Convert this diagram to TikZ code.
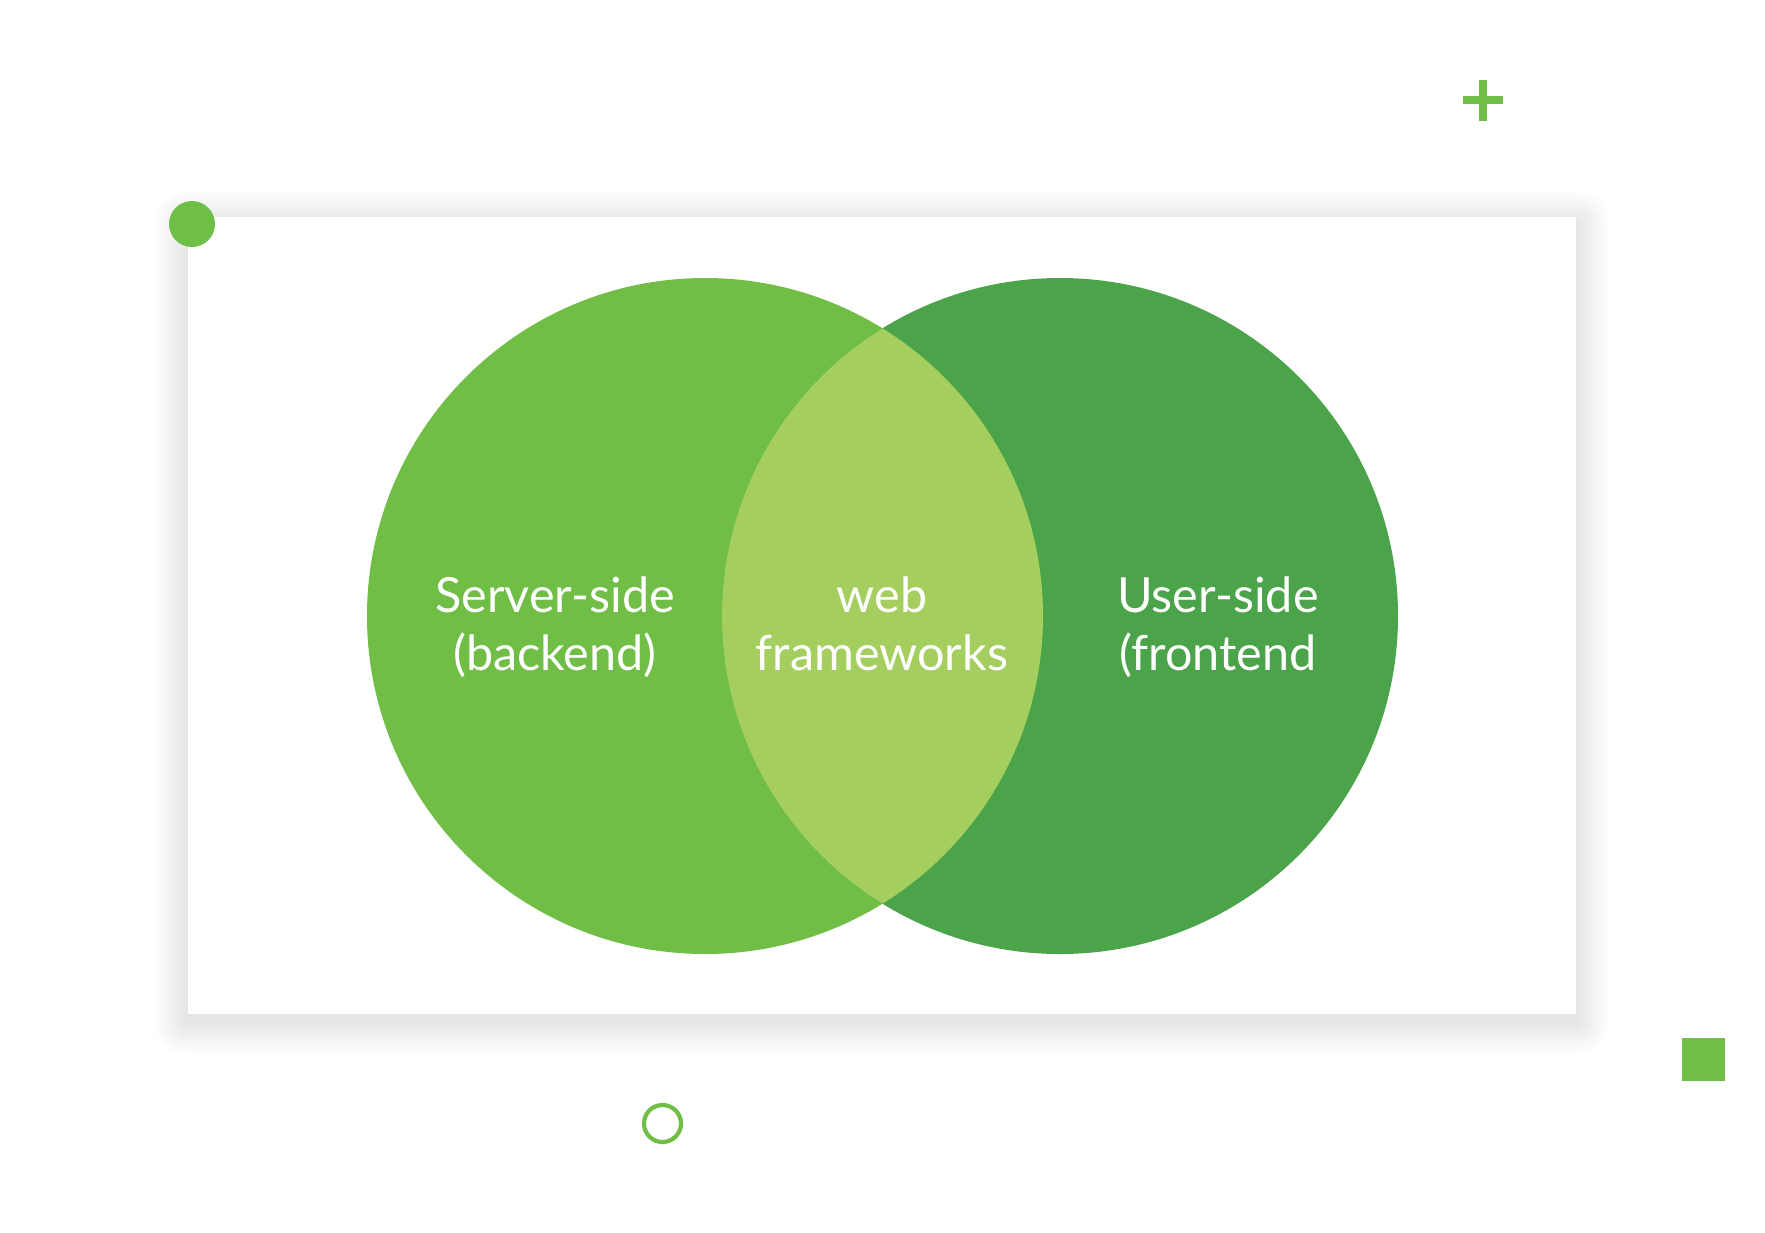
\documentclass[tikz,border=0pt]{standalone}
\usepackage{fontspec}
\setmainfont{Lato}

\definecolor{serverGreen}{HTML}{70BE46}
\definecolor{userGreen}{HTML}{4BA34A}
\definecolor{webGreen}{HTML}{A4CF5F}

\begin{document}
\begin{tikzpicture}[x=0.01cm, y=-0.01cm,
	venntext/.style={text=white, align=center, inner sep=0pt, font=\fontsize{13.8pt}{16.6pt}\selectfont},
	shadowstep/.style={fill=black, fill opacity=0.0035}]

	\useasboundingbox[fill=white] (0,0) rectangle (1765,1232);

	% card
	\foreach \r in {1,...,26}
		\fill[shadowstep, rounded corners=\r*0.35pt] ({188-1.3*\r},{224-1.3*\r}) rectangle ({1576+1.3*\r},{1021+1.3*\r});
	\fill[white] (188,217) rectangle (1576,1014);

	% circles
	\fill[serverGreen] (705,616) circle[radius=338];
	\fill[userGreen] (1060,616) circle[radius=338];
	\begin{scope}
		\clip (705,616) circle[radius=338];
		\fill[webGreen] (1060,616) circle[radius=338];
	\end{scope}

	\node[venntext] (backend) at (555,630) {\strut Server-side\\\strut(backend)};
	\node[venntext] (web) at (882,630) {\strut web\\\strut frameworks};
	\node[venntext] (frontend) at (1218,630) {\strut User-side\\\strut(frontend};

	% decorations
	\fill[serverGreen] (192,224) circle[radius=23];
	\fill[serverGreen] (1463,96) rectangle (1503,104);
	\fill[serverGreen] (1479,80) rectangle (1487,121);
	\fill[serverGreen] (1682,1038) rectangle (1725,1081);
	\draw[serverGreen, line width=1.2pt] (662.5,1123.5) circle[radius=18.5];
\end{tikzpicture}
\end{document}
